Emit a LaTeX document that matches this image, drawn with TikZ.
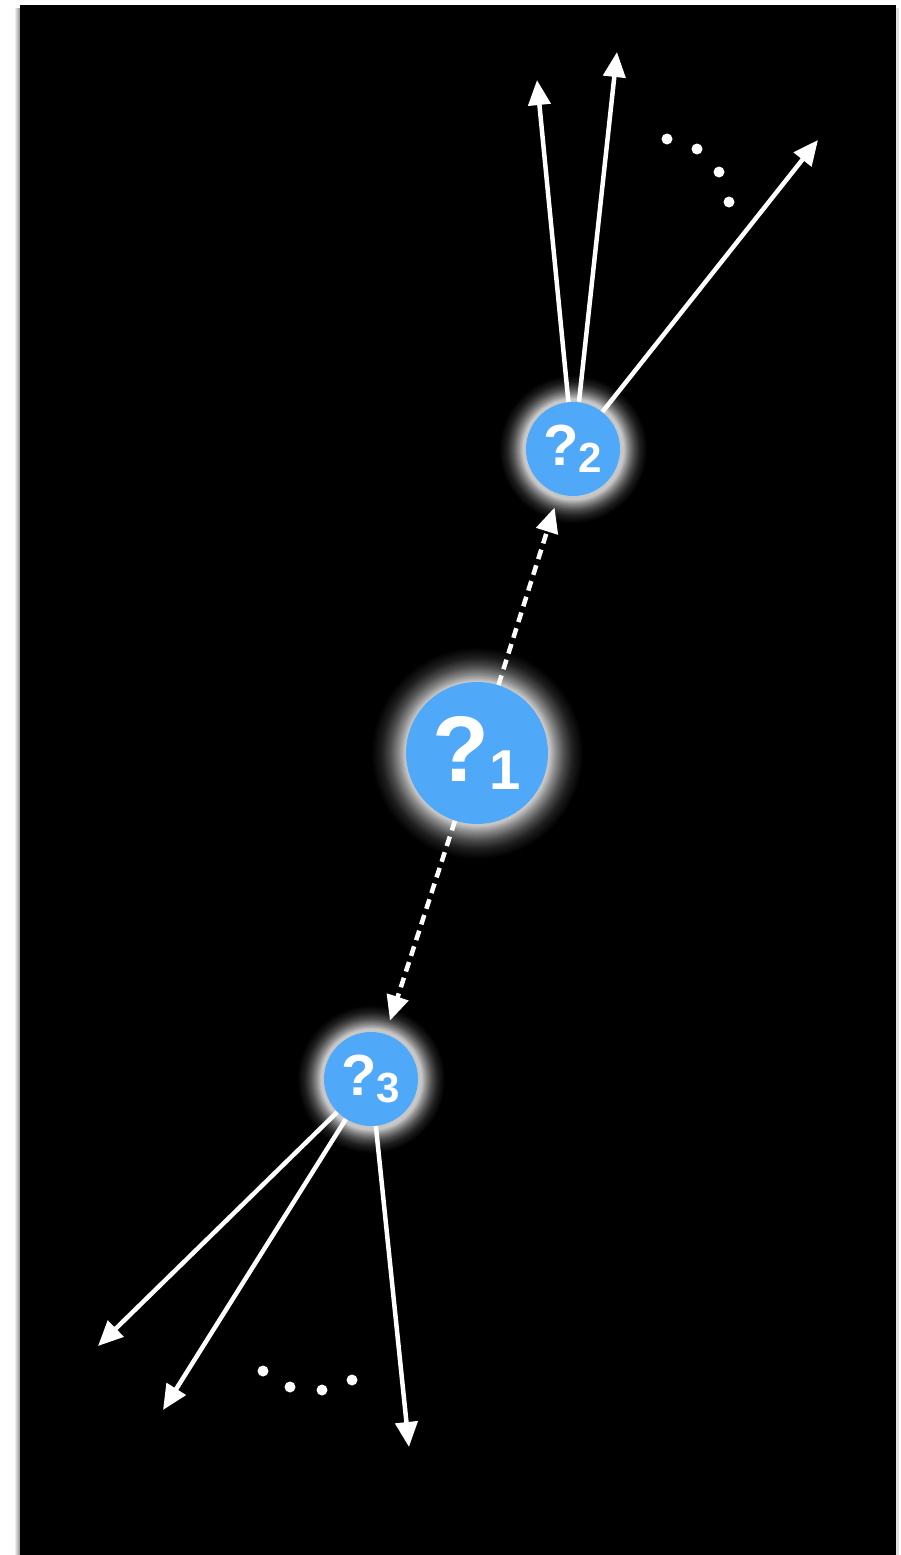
\documentclass[tikz,border=0pt]{standalone}
\usepackage{fontspec}
\setmainfont{Liberation Sans}
\usetikzlibrary{arrows.meta}
\definecolor{qblue}{RGB}{80,168,248}
\pgfdeclareradialshading{qglow}{\pgfpoint{0bp}{0bp}}{color(0bp)=(white!78!black); color(17bp)=(white!78!black); color(18.5bp)=(white!55!black); color(20.5bp)=(white!30!black); color(22.5bp)=(white!12!black); color(25bp)=(black); color(50bp)=(black)}

\begin{document}
\begin{tikzpicture}[x=0.02cm, y=-0.02cm,
  qnode/.style={circle, fill=qblue, inner sep=0pt, text=white, font=\bfseries},
  qbig/.style={qnode, minimum size=2.84cm, font=\bfseries\fontsize{53}{53}\selectfont},
  qsmall/.style={qnode, minimum size=1.88cm, font=\bfseries\fontsize{33}{33}\selectfont},
  arr/.style={white, line width=0.09cm, -{Triangle[length=0.5cm, width=0.44cm]}},
  darr/.style={arr, dash pattern=on 0.2cm off 0.13cm, shorten >=0.28cm},
  dot/.style={white}]
\useasboundingbox (0,0) rectangle (900,1555);
% frame
\shade[left color=white, right color=black!45] (14,8) rectangle (20,1555);
\fill[black!12] (896,8) rectangle (898.5,1555);
\fill[black] (20,5) rectangle (896,1555);
% glows
\shade[shading=qglow] (477,753) circle (106);
\shade[shading=qglow] (573,449) circle (74);
\shade[shading=qglow] (371,1079) circle (74);
% nodes
\node[qbig] (q1) at (477,753) {?\raisebox{-0.16cm}{\fontsize{32}{32}\selectfont 1}};
\node[qsmall] (q2) at (573,449) {?\raisebox{-0.14cm}{\fontsize{24}{24}\selectfont 2}};
\node[qsmall] (q3) at (371,1079) {?\raisebox{-0.14cm}{\fontsize{24}{24}\selectfont 3}};
% tips
\coordinate (u1) at (537,80);
\coordinate (u2) at (617,52);
\coordinate (u3) at (818,140);
\coordinate (d1) at (98,1346);
\coordinate (d2) at (163,1410);
\coordinate (d3) at (409,1447);
% links
\draw[darr] (q1) -- (q2);
\draw[darr] (q1) -- (q3);
\draw[arr] (q2) -- (u1);
\draw[arr] ([xshift=0.12cm]q2.north) -- (u2);
\draw[arr] (q2) -- (u3);
\draw[arr] (q3) -- (d1);
\draw[arr] (q3) -- (d2);
\draw[arr] (q3) -- (d3);
% ellipses
\foreach \p in {(667,139),(697,149),(719,172),(729,202),(263,1371),(290,1387),(322,1390),(352,1380)}
  \fill[dot] \p circle (5.5);
\end{tikzpicture}
\end{document}
